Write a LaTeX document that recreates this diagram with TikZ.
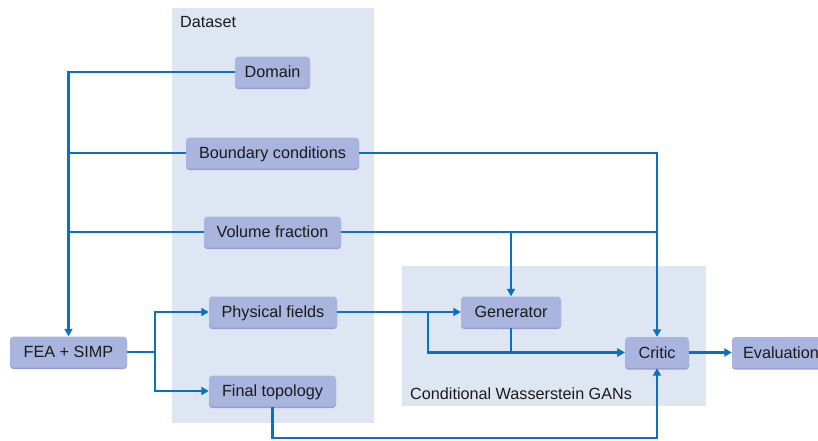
\documentclass[tikz,border=0pt]{standalone}
\usepackage{fontspec}
\setmainfont{Liberation Sans}
\usetikzlibrary{arrows.meta,shadows}
\definecolor{panelfill}{HTML}{DFE6F3}
\definecolor{nodefill}{HTML}{A9B5DF}
\definecolor{nodeshade}{HTML}{9C9AD6}
\definecolor{linkblue}{HTML}{0A70C2}
\definecolor{txt}{HTML}{1A1A1A}
\begin{document}
\begin{tikzpicture}[x=1pt,y=-1pt,
  box/.style={rectangle, rounded corners=3.5pt, fill=nodefill, draw=none,
    minimum height=31pt, inner sep=0pt, text=txt,
    text height=11.6pt, text depth=0pt,
    font=\fontsize{16.2}{19}\selectfont,
    drop shadow={shadow xshift=0pt, shadow yshift=-1.6pt, fill=nodeshade, opacity=1}},
  panel/.style={fill=panelfill, draw=none},
  lbl/.style={anchor=west, inner sep=0pt, text=txt, font=\fontsize{16.2}{19}\selectfont},
  link/.style={draw=linkblue, line width=2.4pt},
  arr/.style={link, -{Triangle[length=7.5pt,width=8pt]}}
]
\useasboundingbox (0,0) rectangle (818,440);
\fill[panel] (172,8) rectangle (374,423);
\fill[panel] (402,266) rectangle (706,406);
\node[lbl] (dslbl) at (180,22) {Dataset};
\node[lbl] (cwlbl) at (410,394) {Conditional Wasserstein GANs};

\node[box, minimum width=75pt]  (dom)  at (272.5,72)  {Domain};
\node[box, minimum width=173pt] (bc)   at (272.5,153) {Boundary conditions};
\node[box, minimum width=137pt] (vf)   at (272.5,232) {Volume fraction};
\node[box, minimum width=128pt] (pf)   at (273,312)   {Physical fields};
\node[box, minimum width=127pt] (ft)   at (272.5,391) {Final topology};
\node[box, minimum width=117pt] (fea)  at (68.5,352)  {FEA + SIMP};
\node[box, minimum width=100pt] (gen)  at (511,312)   {Generator};
\node[box, minimum width=64pt]  (crit) at (657,352.5) {Critic};
\node[box, minimum width=98pt]  (eval) at (781,352.5) {Evaluation};

\coordinate (split1) at (155,352);
\coordinate (split2) at (428,312);
\coordinate (low) at (272,438);

% inputs to FEA + SIMP
\draw[arr] (dom.west) -| (fea.north);
\draw[link] (bc.west) -- (bc.west -| fea.north);
\draw[link] (vf.west) -- (vf.west -| fea.north);
% conditions to GAN
\draw[arr] (bc.east) -| (crit.north);
\draw[link] (vf.east) -- (vf.east -| crit.north);
\draw[arr] (vf.east) -| (gen.north);
% FEA outputs
\draw[link] (fea.east) -- (split1);
\draw[arr] (split1) |- (pf.west);
\draw[arr] (split1) |- (ft.west);
% physical fields
\draw[arr] (pf.east) -- (gen.west);
\draw[arr] (split2) |- (crit.west);
\draw[arr] (gen.south) |- (crit.west);
% final topology to critic
\draw[arr] (ft.south) -- (ft.south |- low) -| (crit.south);
% critic to evaluation
\draw[arr] (crit.east) -- (eval.west);
\end{tikzpicture}
\end{document}
